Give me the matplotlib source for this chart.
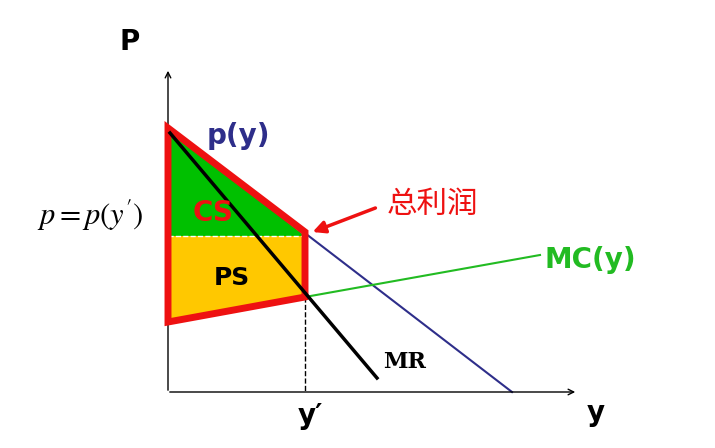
import matplotlib.pyplot as plt
from matplotlib.patches import Polygon

# geometry in image pixel units (x right, y down)
origin = (168, 392)
demand_x = [168, 512]
demand_y = [128, 392]
mr_x = [170, 377]
mr_y = [133, 378]
mc_x = [305, 540]
mc_y = [297, 255]
y_star = 305
p_star = 236
cs_pts = [(168, 128), (y_star, p_star), (168, p_star)]
ps_pts = [(168, p_star), (y_star, p_star), (y_star, 297), (168, 322)]
profit_pts = [(168, 128), (y_star, 232), (y_star, 297), (168, 322)]

fig = plt.figure(figsize=(7.15, 4.48), dpi=100)
ax = fig.add_axes([0, 0, 1, 1])
ax.set_xlim(0, 715)
ax.set_ylim(448, 0)
ax.axis('off')

ax.add_patch(Polygon(cs_pts, closed=True, fc='#00c000', ec='none'))
ax.add_patch(Polygon(ps_pts, closed=True, fc='#ffc800', ec='none'))
ax.plot([168, y_star], [p_star, p_star], color='white', lw=1, ls='--')

# axes arrows
ax.annotate('', xy=(168, 68), xytext=(168, 393),
            arrowprops=dict(arrowstyle='->', color='black', lw=1))
ax.annotate('', xy=(578, 392), xytext=(167, 392),
            arrowprops=dict(arrowstyle='->', color='black', lw=1))

ax.plot(demand_x, demand_y, color='#2e2e8a', lw=1.5)
ax.plot(mc_x, mc_y, color='#22bb22', lw=1.5)
ax.plot([y_star, y_star], [297, 392], color='black', lw=1, ls='--')
ax.add_patch(Polygon(profit_pts, closed=True, fc='none', ec='#ee1111', lw=5,
                     joinstyle='miter', zorder=3))
ax.plot(mr_x, mr_y, color='black', lw=2.5, zorder=4)

ax.text(130, 42, 'P', fontsize=20, fontweight='bold', ha='center', va='center')
ax.text(596, 413, 'y', fontsize=20, fontweight='bold', ha='center', va='center')
ax.text(310, 416, 'y′', fontsize=20, fontweight='bold', ha='center', va='center')
ax.text(238, 136, 'p(y)', fontsize=20, fontweight='bold', color='#2e2e8a', ha='center', va='center')
ax.text(213, 213, 'CS', fontsize=20, fontweight='bold', color='#ee1111', ha='center', va='center', zorder=5)
ax.text(232, 278, 'PS', fontsize=18, fontweight='bold', color='black', ha='center', va='center', zorder=5)
ax.text(590, 260, 'MC(y)', fontsize=20, fontweight='bold', color='#22bb22', ha='center', va='center')
ax.text(405, 362, 'MR', fontsize=16, fontweight='bold', family='DejaVu Serif', ha='center', va='center')
ax.text(90, 215, "$p = p(y')$", fontsize=22, ha='center', va='center',
        math_fontfamily='stix')
ax.text(432, 204, '总利润', fontsize=22, color='#ee1111', ha='center', va='center',
        family=['Noto Sans CJK SC', 'DejaVu Sans'])
ax.annotate('', xy=(310, 233), xytext=(378, 207),
            arrowprops=dict(arrowstyle='-|>', color='#ee1111', lw=2.5, mutation_scale=18))

fig.savefig('out.png', dpi=100)
